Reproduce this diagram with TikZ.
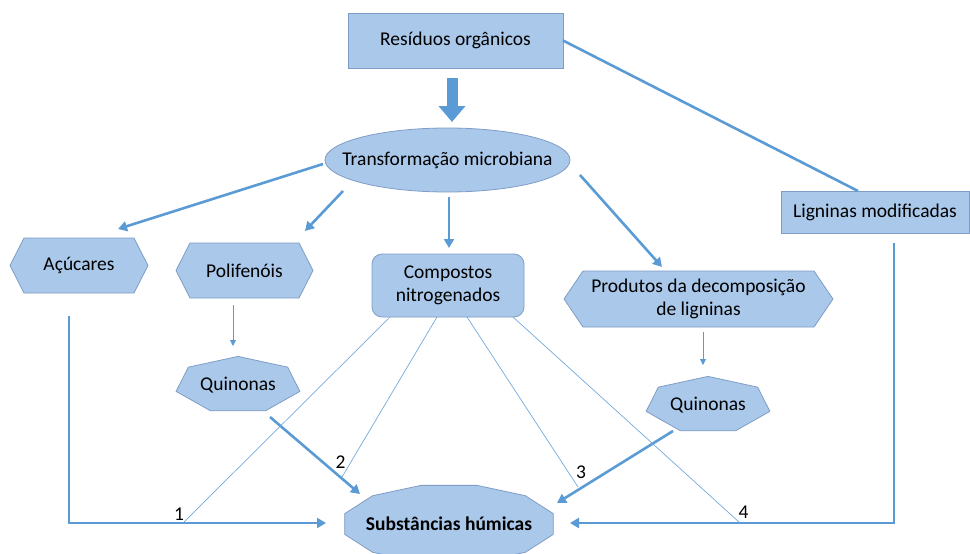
\documentclass[tikz,border=0pt]{standalone}
\usepackage{fontspec}
\setmainfont{Carlito}
\usetikzlibrary{arrows.meta,shapes.geometric,backgrounds,calc}

\definecolor{boxfill}{HTML}{AAC8EA}
\definecolor{boxline}{HTML}{7F9DC4}
\definecolor{arrowblue}{HTML}{5B9BD5}

% hexagon round a node: node name, inset of the points
\newcommand{\drawhexagon}[2]{%
  \draw[boxborder] (#1.west) -- ([xshift=#2]#1.north west) -- ([xshift=-#2]#1.north east)
    -- (#1.east) -- ([xshift=-#2]#1.south east) -- ([xshift=#2]#1.south west) -- cycle;}

% stretched regular polygon: node name, sides, x radius, y radius, first angle
\newcommand{\drawpolygon}[5]{%
  \pgfmathtruncatemacro{\lastk}{#2-1}%
  \draw[boxborder] ($(#1)+(#5:#3 and #4)$)
    \foreach \k in {1,...,\lastk}{ -- ($(#1)+(#5+\k*360/#2:#3 and #4)$)} -- cycle;}

\begin{document}
\begin{tikzpicture}[x=1pt, y=-1pt,
  every node/.style={font=\fontsize{19.5}{23.5}\selectfont},
  boxborder/.style={draw=boxline, line width=0.8pt, fill=boxfill},
  textbox/.style={inner sep=0pt, outer sep=0pt, align=center},
  thickarrow/.style={draw=arrowblue, line width=2.6pt, -{Triangle[length=9pt,width=10pt]}},
  thinarrow/.style={draw=arrowblue, line width=0.9pt, -{Triangle[length=6pt,width=6pt]}},
  thickline/.style={draw=arrowblue, line width=2.6pt},
  thinline/.style={draw=arrowblue!85, line width=0.7pt},
  blockarrow/.style={draw=arrowblue, line width=11pt, -{Triangle[length=16pt,width=26pt]}},
  numlabel/.style={inner sep=0pt}]

  \useasboundingbox (0,0) rectangle (970,554);

  %% Boxes
  \node[textbox, boxborder, minimum width=215pt, minimum height=55pt] (res) at (455.5,40.5) {Resíduos orgânicos};
  \node[textbox, boxborder, ellipse, inner xsep=-40pt, minimum width=245pt, minimum height=64pt] (trans) at (447.5,160) {Transformação microbiana};
  \node[textbox, minimum width=138pt, minimum height=55pt] (acu) at (79,265.5) {Açúcares};
  \node[textbox, minimum width=137pt, minimum height=55pt] (poli) at (244.5,270.5) {Polifenóis};
  \node[textbox, boxborder, rounded corners=10pt, minimum width=152pt, minimum height=63pt] (comp) at (448,285.5) {Compostos\\nitrogenados};
  \node[textbox, minimum width=269pt, minimum height=56pt] (prod) at (698.5,299) {Produtos da decomposição\\de ligninas};
  \node[textbox, boxborder, minimum width=188pt, minimum height=42pt] (lig) at (875,212) {Ligninas modificadas};
  \node[textbox, minimum width=127pt, minimum height=54pt] (q1) at (238,385) {Quinonas};
  \node[textbox, minimum width=127pt, minimum height=54pt] (q2) at (708,405) {Quinonas};
  \node[textbox, font=\fontsize{19.5}{23.5}\selectfont\bfseries, minimum width=209pt, minimum height=78pt] (hum) at (449,524) {Substâncias húmicas};

  % Shapes behind the texts
  \begin{pgfonlayer}{background}
    \drawhexagon{acu}{14pt}
    \drawhexagon{poli}{14pt}
    \drawhexagon{prod}{19pt}
    \drawpolygon{q1}{7}{63.5}{28.6}{-90}
    \drawpolygon{q2}{7}{63.5}{28.6}{-90}
    \drawpolygon{hum}{12}{108}{40}{15}
  \end{pgfonlayer}

  %% Arrows
  \draw[blockarrow] ([shift={(-3.5,37.5)}]res.center) -- ([shift={(4.5,-38)}]trans.center);

  % out of the microbial transformation
  \draw[thickarrow] ([shift={(-124.5,4)}]trans.center) -- ([shift={(39,-36.5)}]acu.center);
  \draw[thickarrow] ([shift={(-104.5,31)}]trans.center) -- ([shift={(60.5,-39.5)}]poli.center);
  \draw[thickarrow] ([shift={(1.5,37)}]trans.center) -- ([shift={(1,-37.5)}]comp.center);
  \draw[thickarrow] ([shift={(132.5,15)}]trans.center) -- ([shift={(-36.5,-32)}]prod.center);

  % modified lignins
  \draw[thickline] (res.east) -- ([xshift=-17pt]lig.north);
  \draw[thickarrow] ([shift={(19,31)}]lig.center) |- ([shift={(121,-1)}]hum.center);

  % sugars
  \draw[thickarrow] ([shift={(-10,50.5)}]acu.center) |- ([shift={(-123,-1)}]hum.center);

  % quinones
  \draw[thinarrow] ([shift={(-11.5,34.5)}]poli.center) -- ([shift={(-5,-39)}]q1.center);
  \draw[thinarrow] ([shift={(4.5,33)}]prod.center) -- ([shift={(-5,-40)}]q2.center);
  \draw[thickarrow] ([shift={(32,32)}]q1.center) -- ([shift={(-89,-30)}]hum.center);
  \draw[thickarrow] ([shift={(-35,26)}]q2.center) -- ([shift={(108,-21)}]hum.center);

  %% Nitrogen compounds, paths 1 to 4
  \coordinate (e1) at (184,522);
  \coordinate (e2) at (342,477);
  \coordinate (e3) at (578,487);
  \coordinate (e4) at (739,522);
  \draw[thinline] ([shift={(-58,31.5)}]comp.center) -- (e1);
  \draw[thinline] ([shift={(-11,31.5)}]comp.center) -- (e2);
  \draw[thinline] ([shift={(19,31.5)}]comp.center) -- (e3);
  \draw[thinline] ([shift={(65,31.5)}]comp.center) -- (e4);

  \node[numlabel] (n1) at (179,514) {1};
  \node[numlabel] (n2) at (340.5,462) {2};
  \node[numlabel] (n3) at (581,472.5) {3};
  \node[numlabel] (n4) at (743.5,512.5) {4};

\end{tikzpicture}
\end{document}
